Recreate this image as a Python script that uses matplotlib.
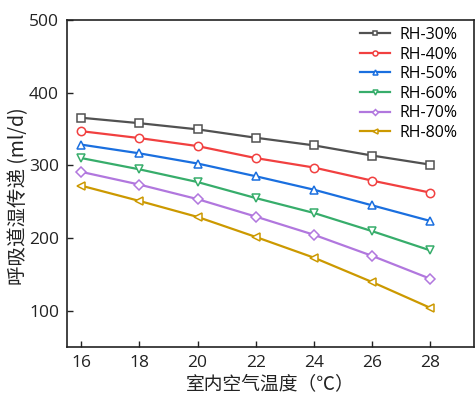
import matplotlib
matplotlib.use('Agg')
import matplotlib.pyplot as plt

plt.rcParams['font.family'] = ['Open Sans', 'Noto Sans CJK SC', 'DejaVu Sans']

# indoor air temperature (C)
temps = [16, 18, 20, 22, 24, 26, 28]

# respiratory moisture transfer (ml/d) for each relative humidity
rh30 = [365.5, 358, 349.5, 338, 327.5, 313.5, 301]
rh40 = [347, 337.5, 326.5, 310, 297, 279, 262.5]
rh50 = [328.5, 316.5, 302.5, 285, 266.5, 245, 223.5]
rh60 = [310, 294.5, 277, 255, 234.5, 209.5, 183]
rh70 = [291, 273.5, 253.5, 229.5, 204.5, 175.5, 144]
rh80 = [272, 251, 229, 201.5, 173, 139.5, 104]

labels = ['RH-30%', 'RH-40%', 'RH-50%', 'RH-60%', 'RH-70%', 'RH-80%']
colors = ['#515151', '#F14040', '#1A6FDF', '#37AD6B', '#B177DE', '#CC9900']
markers = ['s', 'o', '^', 'v', 'D', '<']

fig = plt.figure(figsize=(4.75, 3.93), dpi=100)
ax = fig.add_axes([66.7 / 475, 1 - 347 / 393, (473.7 - 66.7) / 475, (347 - 20) / 393])

series = [rh30, rh40, rh50, rh60, rh70, rh80]
for ys, lab, c, m in zip(series, labels, colors, markers):
    ms = 5 if m == 'D' else 6
    ax.plot(temps, ys, color=c, lw=1.6, marker=m, ms=ms, mfc='white',
            mec=c, mew=1.1, label=lab)

ax.set_xlim(15.5, 29.5)
ax.set_ylim(50, 500)
ax.set_xticks(temps)
ax.set_yticks([100, 200, 300, 400, 500])
ax.tick_params(direction='in', length=4, width=1, labelsize=12.5, colors='#222222',
               top=False, right=False)
ax.tick_params(axis='y', pad=5.5)
ax.tick_params(axis='x', pad=6)
for sp in ax.spines.values():
    sp.set_linewidth(1.2)
    sp.set_color('#222222')

ax.set_xlabel('室内空气温度（℃）', fontsize=13.5, family=['Noto Sans CJK SC'],
              color='#222222', labelpad=1)
ax.set_ylabel('呼吸道湿传递 (ml/d)', fontsize=14,
              family=['Noto Sans CJK SC'], color='#222222', labelpad=2)
ax.yaxis.set_label_coords(-0.093, 0.46)

leg = ax.legend(loc='upper right', bbox_to_anchor=(0.976, 0.998), frameon=False,
                fontsize=11.5, markerscale=0.6, handlelength=1.9,
                labelspacing=0.22, borderaxespad=0, handletextpad=0.6)

fig.savefig('out.png', dpi=100)
